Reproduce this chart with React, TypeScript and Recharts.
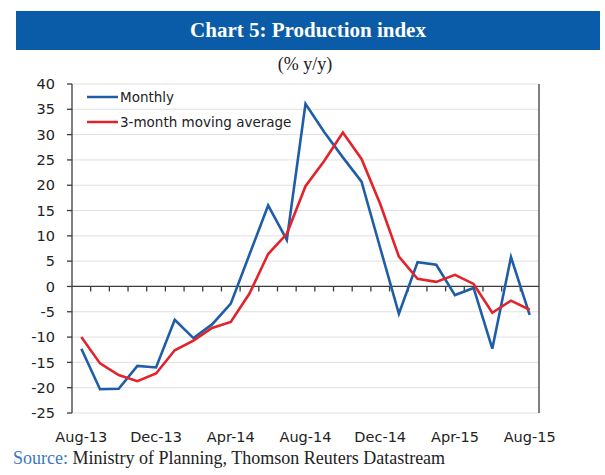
import React from "react";
import {
  LineChart,
  Line,
  XAxis,
  YAxis,
  CartesianGrid,
  ReferenceLine,
} from "recharts";

const months = [
  "Aug-13", "Sep-13", "Oct-13", "Nov-13", "Dec-13", "Jan-14", "Feb-14", "Mar-14",
  "Apr-14", "May-14", "Jun-14", "Jul-14", "Aug-14", "Sep-14", "Oct-14", "Nov-14",
  "Dec-14", "Jan-15", "Feb-15", "Mar-15", "Apr-15", "May-15", "Jun-15", "Jul-15",
  "Aug-15",
];

const monthly = [
  -12.3, -20.3, -20.2, -15.7, -16.0, -6.6, -10.2, -7.5, -3.4, 6.3, 16.0, 9.2,
  36.1, 30.5, 25.5, 20.7, 7.6, -5.4, 4.8, 4.3, -1.7, -0.3, -12.3, 5.8, -5.6,
];

const movingAvg = [
  -10.0, -15.2, -17.5, -18.7, -17.2, -12.6, -10.7, -8.2, -7.0, -1.4, 6.4, 10.4,
  19.8, 24.8, 30.4, 25.2, 16.3, 5.9, 1.5, 0.9, 2.3, 0.5, -5.2, -2.8, -4.6,
];

const yTicks = [-25, -20, -15, -10, -5, 0, 5, 10, 15, 20, 25, 30, 35, 40];

const legendItems = [
  { label: "Monthly", color: "#1f5ea6" },
  { label: "3-month moving average", color: "#e2232b" },
];

const BLUE = "#1f5ea6";
const RED = "#e2232b";
const AXIS = "#3c3c3c";
const tickFont = { fontFamily: "DejaVu Sans", fontSize: 14.5, fill: "#222" };

const data = months.map((m, i) => ({
  month: m,
  monthly: monthly[i],
  avg: movingAvg[i],
}));

// zero line with small tick marks at each month boundary
function ZeroLine(props: any) {
  const { x1, y1, x2, y2 } = props;
  const n = months.length;
  const step = (x2 - x1) / n;
  const marks = [];
  for (let k = 1; k < n; k++) {
    const x = x1 + k * step;
    marks.push(<line key={k} x1={x} x2={x} y1={y1} y2={y1 + 5} stroke={AXIS} strokeWidth={1.3} />);
  }
  return (
    <g>
      <line x1={x1} y1={y1} x2={x2} y2={y2} stroke={AXIS} strokeWidth={1.3} />
      {marks}
    </g>
  );
}

export default function App() {
  return (
    <div style={{ position: "absolute", left: 0, top: 0, width: 605, height: 475, background: "#fff" }}>
      <LineChart
        width={605}
        height={475}
        data={data}
        margin={{ top: 84, right: 26, bottom: 32, left: 32 }}
      >
        <CartesianGrid vertical={false} stroke="#e0e0e0" strokeWidth={1} />
        <XAxis
          dataKey="month"
          scale="band"
          interval={3}
          axisLine={false}
          tickLine={false}
          tickMargin={13}
          height={30}
          tick={tickFont}
        />
        <YAxis
          domain={[-25, 40]}
          ticks={yTicks}
          width={40}
          tickSize={5}
          tickMargin={12}
          axisLine={{ stroke: AXIS, strokeWidth: 1.3 }}
          tickLine={{ stroke: AXIS, strokeWidth: 1.3 }}
          tick={tickFont}
        />
        <YAxis
          yAxisId="right"
          orientation="right"
          domain={[-25, 40]}
          ticks={yTicks}
          width={40}
          tickSize={5}
          tickMargin={11}
          axisLine={{ stroke: AXIS, strokeWidth: 1.3 }}
          tickLine={{ stroke: AXIS, strokeWidth: 1.3 }}
          tick={{ ...tickFont, textAnchor: "start" }}
        />
        <ReferenceLine y={0} shape={ZeroLine} />
        <Line
          type="linear"
          dataKey="monthly"
          name="Monthly"
          stroke={BLUE}
          strokeWidth={2.6}
          dot={false}
          isAnimationActive={false}
        />
        <Line
          type="linear"
          dataKey="avg"
          name="3-month moving average"
          stroke={RED}
          strokeWidth={2.6}
          dot={false}
          isAnimationActive={false}
        />
      </LineChart>
      <div
        style={{
          position: "absolute",
          left: 87,
          top: 84,
          fontFamily: "DejaVu Sans",
          fontSize: 13.5,
          color: "#222",
        }}
      >
        {legendItems.map((it) => (
          <div key={it.label} style={{ display: "flex", alignItems: "center", height: 25 }}>
            <svg width={32} height={6}>
              <line x1={0} x2={31} y1={3} y2={3} stroke={it.color} strokeWidth={2.5} />
            </svg>
            <span style={{ marginLeft: 1 }}>{it.label}</span>
          </div>
        ))}
      </div>
      <div
        style={{
          position: "absolute",
          left: 16,
          top: 11,
          width: 584,
          height: 39,
          background: "#0b5ca8",
          color: "#fff",
          fontFamily: "Liberation Serif",
          fontWeight: "bold",
          fontSize: 21,
          display: "flex",
          alignItems: "center",
          justifyContent: "center",
        }}
      >
        Chart 5: Production index
      </div>
      <div
        style={{
          position: "absolute",
          left: 205,
          width: 200,
          top: 54,
          textAlign: "center",
          fontFamily: "Liberation Serif",
          fontSize: 18,
          color: "#222",
        }}
      >
        (% y/y)
      </div>
      <div
        style={{
          position: "absolute",
          left: 13,
          top: 448,
          fontFamily: "Liberation Serif",
          fontSize: 18,
          color: "#222",
          whiteSpace: "nowrap",
        }}
      >
        <span style={{ color: "#3b78bd" }}>Source:</span> Ministry of Planning, Thomson Reuters Datastream
      </div>
    </div>
  );
}
